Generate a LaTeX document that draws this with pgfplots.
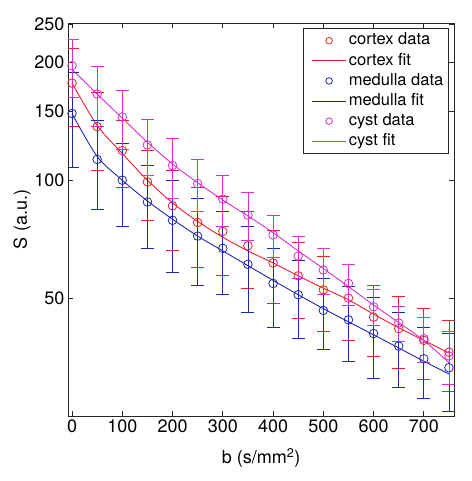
\documentclass[border=0pt]{standalone}
\usepackage{fontspec}
\setmainfont{TeX Gyre Heros}
\usepackage{pgfplots}
\usepackage{pgfplotstable}
\pgfplotsset{compat=1.18}
\definecolor{cred}{RGB}{236,32,42}
\definecolor{cblue}{RGB}{30,40,172}
\definecolor{cmag}{RGB}{220,45,205}
\pgfplotsset{
  legdata/.style={legend image code/.code={\path (-5bp,0bp); \draw[##1, only marks] plot coordinates {(17bp,0bp)};}},
  legline/.style={legend image code/.code={\path (-5bp,0bp); \draw[##1] (0bp,0bp) -- (34bp,0bp);}},
  databars/.style={only marks, mark=o, mark size=4.3bp, color=#1, draw=#1, mark options={line width=0.8bp, draw=#1},
    error bars/y dir=both, error bars/y explicit,
    error bars/error bar style={line width=0.8bp, draw=#1},
    error bars/error mark options={rotate=90, draw=#1, mark size=6.5bp, line width=0.8bp}},
}

\pgfplotstableread{
b   c     ce    m     me    y     ye
0   177   40    148   40    196   33
50  137   31    113   29    166   29
100 119   23    100   24    145   25
150 99    20    88    21    123   20
200 86    20    79    21    109   19
250 78    18    72    18    98    15
300 74    17    67    16    89.5  13.5
350 68    15    61    15    81.5  11.5
400 61.5  13    54.5  12.5  72.5  9
450 57    12.5  51    11.5  64    8
500 52.5  11.5  46.5  9.5   59    8
550 50    11    44    9.5   54.5  6.5
600 44.7  9.3   40.6  9.5   47.5  5
650 41.8  8.7   37.7  8.2   43.2  4.5
700 39    8     35    7.2   39.4  5.2
750 36.4  7.5   33.2  7.5   35.6  5.5
}\data

\pgfplotstableread{
b   c     m     y
0   177   148   192
50  138   115   166
100 117   100   144
150 100   88.5  125
200 87.5  79.5  110
250 78.5  72    98.5
300 71.5  66    89
350 66    60.5  81
400 61.5  55.5  73.5
450 57    51    66
500 53    47    59.5
550 49.5  43.5  53.5
600 45.5  40.3  48
650 42    37.3  43.3
700 39    34.5  39
750 36.2  32    34.2
}\fit

\begin{document}
\begin{tikzpicture}
\begin{axis}[
  name=ax, scale only axis, width=386bp, height=393bp,
  xmin=-8, xmax=760, ymode=log, ymin=25, ymax=252,
  xtick={0,100,...,700},
  ytick={50,100,150,200,250}, yticklabels={50,100,150,200,250},
  yminorticks=false, xminorticks=false,
  tick align=inside, major tick length=5bp,
  axis line style={black!85, line width=0.9bp},
  every tick/.style={black!85, line width=0.8bp},
  ticklabel style={font=\fontsize{18bp}{20bp}\selectfont},
  /pgf/number format/assume math mode=true,
  xlabel={b (s/mm\textsuperscript{2})}, ylabel={S (a.u.)},
  label style={font=\fontsize{18bp}{20bp}\selectfont},
  xlabel style={at={(axis description cs:0.5,-0.107)}, anchor=center},
  ylabel style={at={(axis description cs:-0.119,0.5)}, anchor=center},
  legend style={at={(0.987,0.9865)}, anchor=north east, draw=black!85, line width=0.8bp,
    font=\fontsize{16.5bp}{18bp}\selectfont, cells={anchor=west},
    nodes={text height=12bp, text depth=3.5bp, inner sep=2.3bp}},
]
% fits
\addplot[forget plot, draw=cred, line width=0.9bp, smooth] table[x=b, y=c] {\fit};
\addplot[forget plot, draw=cblue, line width=0.9bp, smooth] table[x=b, y=m] {\fit};
\addplot[forget plot, draw=cmag, line width=0.9bp, smooth] table[x=b, y=y] {\fit};
% data
\addplot[forget plot, databars=cred] table[x=b, y=c, y error=ce] {\data};
\addplot[forget plot, databars=cblue] table[x=b, y=m, y error=me] {\data};
\addplot[forget plot, databars=cmag] table[x=b, y=y, y error=ye] {\data};
% legend
\addlegendimage{draw=cred, line width=0.8bp, mark=o, mark size=3.3bp, legdata}
\addlegendentry{cortex data}
\addlegendimage{draw=cred, line width=0.9bp, legline}
\addlegendentry{cortex fit}
\addlegendimage{draw=cblue, line width=0.8bp, mark=o, mark size=3.3bp, legdata}
\addlegendentry{medulla data}
\addlegendimage{draw=cblue, line width=0.9bp, legline}
\addlegendentry{medulla fit}
\addlegendimage{draw=cmag, line width=0.8bp, mark=o, mark size=3.3bp, legdata}
\addlegendentry{cyst data}
\addlegendimage{draw=cmag, line width=0.9bp, legline}
\addlegendentry{cyst fit}
\end{axis}
\pgfresetboundingbox
\path ([xshift=-68bp,yshift=-65bp]ax.south west) rectangle ([xshift=18bp,yshift=23bp]ax.north east);
\end{tikzpicture}
\end{document}
